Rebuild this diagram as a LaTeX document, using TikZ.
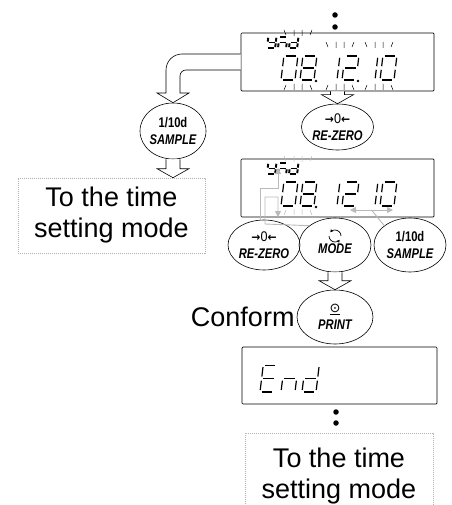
\documentclass[tikz,border=0pt]{standalone}
\usepackage{fontspec}
\setmainfont{Liberation Sans}
\newfontfamily\symfont{DejaVu Sans}
\usepackage{graphicx}
\usetikzlibrary{positioning,shapes.geometric,arrows.meta,calc}

% segments of one 7-segment cell (14 x 24, origin bottom left)
\newcommand\sga{(1.8,24)--(12.2,24)}
\newcommand\sgb{(14,22.2)--(14,13.8)}
\newcommand\sgc{(14,10.2)--(14,1.8)}
\newcommand\sgd{(1.8,0)--(12.2,0)}
\newcommand\sge{(0,1.8)--(0,10.2)}
\newcommand\sgf{(0,13.8)--(0,22.2)}
\newcommand\sgg{(1.8,12)--(12.2,12)}
\newcommand\segchar[3][]{%
  \begin{scope}[shift={#2}, xslant=0.12, yscale=-1, #1]
    \foreach \s in {#3}{\edef\segpath{\noexpand\draw[seg] \csname sg\s\endcsname;}\segpath}
  \end{scope}}
% blinking marks above / below a digit pair
\newcommand\blinkup[3][black]{%
  \draw[#1, line width=0.5pt] (#2-14,#3-3) -- (#2-12,#3+2) (#2-4,#3-3) -- (#2-4,#3+3)
    (#2+4,#3-3) -- (#2+4,#3+3) (#2+14,#3-3) -- (#2+12,#3+2);}
\newcommand\blinkdown[3][black]{%
  \draw[#1, line width=0.5pt] (#2-12,#3-2) -- (#2-14,#3+3) (#2-4,#3-3) -- (#2-4,#3+3)
    (#2+4,#3-3) -- (#2+4,#3+3) (#2+12,#3-2) -- (#2+14,#3+3);}
% white block arrow between two nodes
\newcommand\bigarrow[2]{%
  \draw[hollow] let \p1=(#1), \p2=(#2) in
    (\x1-7pt,\y1) -- (\x1-7pt,\y2+9pt) -- (\x1-16pt,\y2+9pt) -- (\x1,\y2)
    -- (\x1+16pt,\y2+9pt) -- (\x1+7pt,\y2+9pt) -- (\x1+7pt,\y1);}
\newcommand\keytxt[1]{\scalebox{0.8}[1]{\bfseries #1}}
\newcommand\keyname[1]{\scalebox{0.8}[1]{\bfseries\itshape #1}}
\newcommand\zerosym{\scalebox{0.9}[1]{{\symfont\fontsize{12}{12}\selectfont\bfseries →}0{\symfont\fontsize{12}{12}\selectfont\bfseries ←}}}

\begin{document}
\begin{tikzpicture}[x=1pt, y=-1pt,
  lcd/.style={draw, rectangle, rounded corners=1pt, line width=0.7pt, minimum width=193pt, minimum height=58pt, inner sep=0pt},
  keybtn/.style={draw, ellipse, line width=0.6pt, inner sep=0pt, align=center, font=\fontsize{14}{16.5}\selectfont},
  note/.style={draw=gray!60, dash pattern=on 1.2pt off 0.8pt, line width=0.6pt, inner sep=0pt, align=center, font=\fontsize{27}{31}\selectfont},
  dot/.style={circle, fill, inner sep=0pt, minimum size=5.5pt},
  seg/.style={draw, line width=1.2pt},
  segbold/.style={draw, line width=1.9pt},
  hollow/.style={draw, fill=white, line width=0.6pt, line join=miter},
  pointer/.style={draw=gray!55, line width=0.9pt},
  graytip/.style={-{Triangle[length=6pt, width=6pt]}}
]
\useasboundingbox (0,0) rectangle (451,505);

% displays
\node[lcd] (disp1) at (337.5,62) {};
\node[lcd] (disp2) at (337.5,188) {};
\node[lcd, minimum width=195pt, minimum height=57pt] (disp3) at (339.5,375.5) {};

\node[dot] (dotA) at (335,15) {};
\node[dot] (dotB) at (335,27) {};
\node[dot] (dotC) at (336,412) {};
\node[dot] (dotD) at (336,423) {};

% keys
\node[keybtn, minimum width=64pt, minimum height=56pt] (sample1) at (173,131) {\keytxt{1/10d}\\\keyname{SAMPLE}};
\node[keybtn, minimum width=72pt, minimum height=46pt] (rezero1) at (337.5,127) {\zerosym\\\keyname{RE-ZERO}};
\node[keybtn, minimum width=72pt, minimum height=50pt] (rezero2) at (264,245) {\zerosym\\\keyname{RE-ZERO}};
\node[keybtn, minimum width=72pt, minimum height=54pt] (mode) at (335,245) {\mbox{}\\\keyname{MODE}};
\node[keybtn, minimum width=72pt, minimum height=54pt] (sample2) at (410,245) {\keytxt{1/10d}\\\keyname{SAMPLE}};
\node[keybtn, minimum width=76pt, minimum height=54pt] (print) at (335,317) {{\symfont\fontsize{13}{13}\selectfont\underline{⊙}}\\\keyname{PRINT}};
\node[font=\fontsize{27}{31}\selectfont, inner sep=0pt, left=2pt of print] (conform) {Conform};

% rotation symbol of the MODE key
\draw[line width=0.7pt, -{Stealth[length=3pt, width=3.5pt]}] ([xshift=6pt, yshift=9pt]mode.center) arc[start angle=0, end angle=140, radius=6pt];
\draw[line width=0.7pt, -{Stealth[length=3pt, width=3.5pt]}] ([xshift=-6pt, yshift=9pt]mode.center) arc[start angle=180, end angle=320, radius=6pt];

% time setting mode boxes
\node[note, minimum width=187pt, minimum height=75pt] (mode1) at (111.5,215.5) {To the time\\setting mode};
\node[note, minimum width=188pt, minimum height=86pt] (mode2) at (339,476) {To the time\\setting mode};

% white arrows
\draw[hollow] ([yshift=8pt]disp1.west) -- (182,54) arc[start angle=270, end angle=180, radius=16]
  -- (166,93) -- (157,93) -- (sample1.north) -- (189,93) -- (180,93) -- (180,76)
  arc[start angle=180, end angle=270, radius=6] -- ([yshift=-8pt]disp1.west);
\bigarrow{disp1.south}{rezero1.north}
\bigarrow{sample1.south}{mode1.north}
\bigarrow{mode.south}{print.north}

% display contents
\foreach \dy in {0,126} {
  \segchar[xscale=0.58, yscale=0.46, seg/.style=segbold]{(267,48+\dy)}{b,c,d,f,g}
  \segchar[xscale=0.58, yscale=0.46, seg/.style=segbold]{(278,48+\dy)}{a,c,e,g}
  \segchar[xscale=0.58, yscale=0.46, seg/.style=segbold]{(289,48+\dy)}{b,c,d,e,g}
  \segchar{(281,80+\dy)}{a,b,c,d,e,f}
  \segchar{(300,80+\dy)}{a,b,c,d,e,f,g}
  \segchar{(323,80+\dy)}{b,c}
  \segchar{(342,80+\dy)}{a,b,g,e,d}
  \segchar{(361,80+\dy)}{b,c}
  \segchar{(380,80+\dy)}{a,b,c,d,e,f}
  \fill (316,81+\dy) circle (1.3);
}
\fill (358,81) circle (1.3);
\segchar[yscale=1.12]{(260,392)}{a,d,e,f,g}
\segchar[yscale=1.12]{(281,392)}{c,e,g}
\segchar[yscale=1.12]{(302,392)}{b,c,d,e,g}

\blinkup{298}{33} \blinkup{340}{45} \blinkup{379}{45}
\blinkdown{298}{87} \blinkdown{340}{87} \blinkdown{379}{87}
\blinkup[gray!55]{298}{159} \blinkdown[gray!55]{298}{212}

% gray pointers in the second display
\coordinate (yndmark) at (278,168);
\coordinate (yearmark) at (278,217);
\coordinate (swapL) at (350,210);
\coordinate (swapR) at (393,210);
\draw[pointer, graytip] ([xshift=-4pt]rezero2.north) |- (278,188) -- (yndmark);
\draw[pointer, graytip] (mode.north west) -- (265,224) -- (265,197) -- (278,197) -- (yearmark);
\draw[pointer, {Triangle[length=6pt, width=6pt]}-{Triangle[length=6pt, width=6pt]}] (swapL) -- (swapR);
\draw[pointer] (sample2.north west) -- ($(swapL)!0.5!(swapR)$);
\end{tikzpicture}
\end{document}
